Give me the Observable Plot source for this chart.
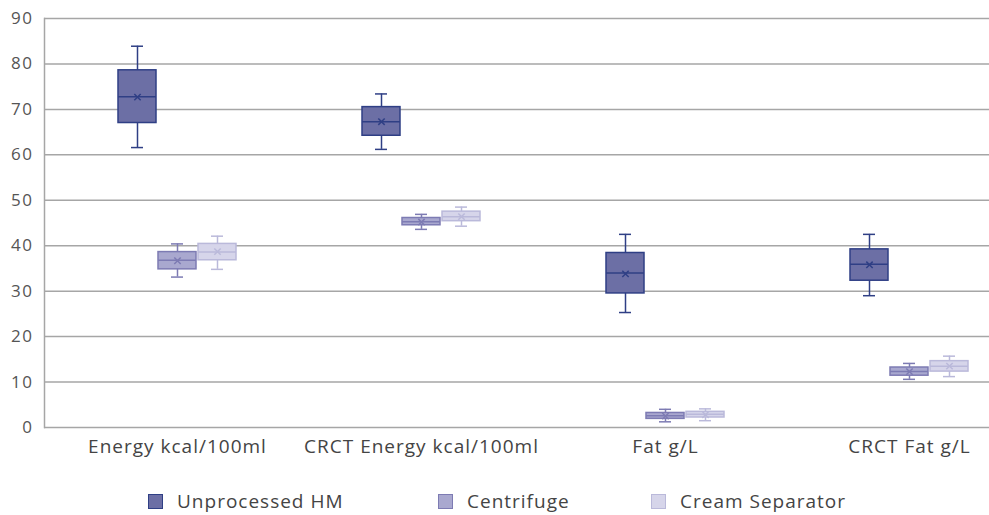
<!DOCTYPE html>
<html>
<head>
<meta charset="utf-8">
<script src="https://cdn.jsdelivr.net/npm/d3@7"></script>
<script src="https://cdn.jsdelivr.net/npm/@observablehq/plot@0.6"></script>
<style>
  body { margin: 0; background: #fff; font-family: "Open Sans", sans-serif; }
  #chart { width: 989px; height: 515px; position: relative; overflow: hidden; }
  #chart g[aria-label="x-axis tick label"] text { letter-spacing: 1px; }
  #chart g[aria-label="y-axis tick label"] text { letter-spacing: 1.5px; }
  .legend { position: absolute; top: 489px; left: 0; width: 989px; height: 24px; font-size: 19px; color: #444; letter-spacing: 1px; }
  .item { position: absolute; top: 0; display: flex; align-items: center; height: 24px; }
  .sw { width: 15px; height: 15px; box-sizing: border-box; border: 1.5px solid; margin-right: 14px; }
</style>
</head>
<body>
<div id="chart"></div>
<script>
const categories = ["Energy kcal/100ml", "CRCT Energy kcal/100ml", "Fat g/L", "CRCT Fat g/L"];
const seriesNames = ["Unprocessed HM", "Centrifuge", "Cream Separator"];
const yTicks = [0, 10, 20, 30, 40, 50, 60, 70, 80, 90];

// box statistics per category (same order as categories)
const unprocessedHM = [
  {min: 61.6, q1: 67.0, median: 72.8, q3: 78.6, max: 83.9, mean: 72.7},
  {min: 61.2, q1: 64.2, median: 67.3, q3: 70.5, max: 73.4, mean: 67.3},
  {min: 25.3, q1: 29.5, median: 34.0, q3: 38.4, max: 42.5, mean: 33.8},
  {min: 29.0, q1: 32.3, median: 35.9, q3: 39.2, max: 42.5, mean: 35.8}
];
const centrifuge = [
  {min: 33.1, q1: 34.8, median: 36.8, q3: 38.6, max: 40.4, mean: 36.7},
  {min: 43.6, q1: 44.5, median: 45.3, q3: 46.1, max: 46.9, mean: 45.2},
  {min: 1.25, q1: 1.9, median: 2.6, q3: 3.2, max: 4.0, mean: 2.5},
  {min: 10.6, q1: 11.4, median: 12.3, q3: 13.2, max: 14.1, mean: 12.3}
];
const creamSeparator = [
  {min: 34.8, q1: 36.8, median: 38.6, q3: 40.4, max: 42.1, mean: 38.7},
  {min: 44.3, q1: 45.4, median: 46.4, q3: 47.5, max: 48.5, mean: 46.4},
  {min: 1.5, q1: 2.2, median: 2.9, q3: 3.45, max: 4.1, mean: 2.8},
  {min: 11.2, q1: 12.3, median: 13.5, q3: 14.6, max: 15.7, mean: 13.5}
];

const seriesData = [unprocessedHM, centrifuge, creamSeparator];
const fills = ["#6c6fa5", "#a9a8cf", "#d6d5ea"];
const strokes = ["#2f3f85", "#7d7bb3", "#bab9da"];

const BW = 244;            // band width
const boxInset = (BW - 38) / 2;
const capInset = (BW - 12) / 2;
const offsets = [-40, 0, 40];

const marks = [
  Plot.ruleY(yTicks, {stroke: "#a6a6a6", strokeWidth: 1.5}),
  Plot.frame({anchor: "left", stroke: "#a6a6a6", strokeWidth: 1.5}),
  Plot.axisY({ticks: yTicks, tickSize: 0, tickPadding: 11, fontSize: 17, fill: "#555", label: null}),
  Plot.axisX({tickSize: 0, tickPadding: 12, fontSize: 19, fill: "#444", label: null})
];

seriesData.forEach((arr, i) => {
  const rows = arr.map((d, j) => ({cat: categories[j], ...d}));
  const dx = offsets[i];
  const st = strokes[i];
  marks.push(
    Plot.ruleX(rows, {x: "cat", y1: "min", y2: "max", stroke: st, strokeWidth: 1.5, dx}),
    Plot.tickY(rows, {x: "cat", y: "min", stroke: st, strokeWidth: 1.5, insetLeft: capInset, insetRight: capInset, dx}),
    Plot.tickY(rows, {x: "cat", y: "max", stroke: st, strokeWidth: 1.5, insetLeft: capInset, insetRight: capInset, dx}),
    Plot.barY(rows, {x: "cat", y1: "q1", y2: "q3", fill: fills[i], stroke: st, strokeWidth: 1.5, insetLeft: boxInset, insetRight: boxInset, dx}),
    Plot.tickY(rows, {x: "cat", y: "median", stroke: st, strokeWidth: 1.5, insetLeft: boxInset, insetRight: boxInset, dx}),
    Plot.dot(rows, {x: "cat", y: "mean", symbol: "times", r: 3, stroke: st, strokeWidth: 1.5, dx})
  );
});

const chart = Plot.plot({
  width: 989,
  height: 470,
  marginTop: 18,
  marginBottom: 43,
  marginLeft: 44,
  marginRight: 0,
  style: {fontFamily: "'Open Sans', sans-serif", background: "#fff"},
  x: {type: "band", domain: categories, range: [55, 55 + 4 * BW], padding: 0, axis: null},
  y: {domain: [0, 90], axis: null},
  marks
});

const container = document.getElementById("chart");
container.appendChild(chart);

const legend = document.createElement("div");
legend.className = "legend";
const legendLeft = [148, 438, 651];
seriesNames.forEach((name, i) => {
  const item = document.createElement("div");
  item.className = "item";
  item.style.left = legendLeft[i] + "px";
  const sw = document.createElement("span");
  sw.className = "sw";
  sw.style.background = fills[i];
  sw.style.borderColor = strokes[i];
  const tx = document.createElement("span");
  tx.textContent = name;
  item.appendChild(sw);
  item.appendChild(tx);
  legend.appendChild(item);
});
container.appendChild(legend);
</script>
</body>
</html>
